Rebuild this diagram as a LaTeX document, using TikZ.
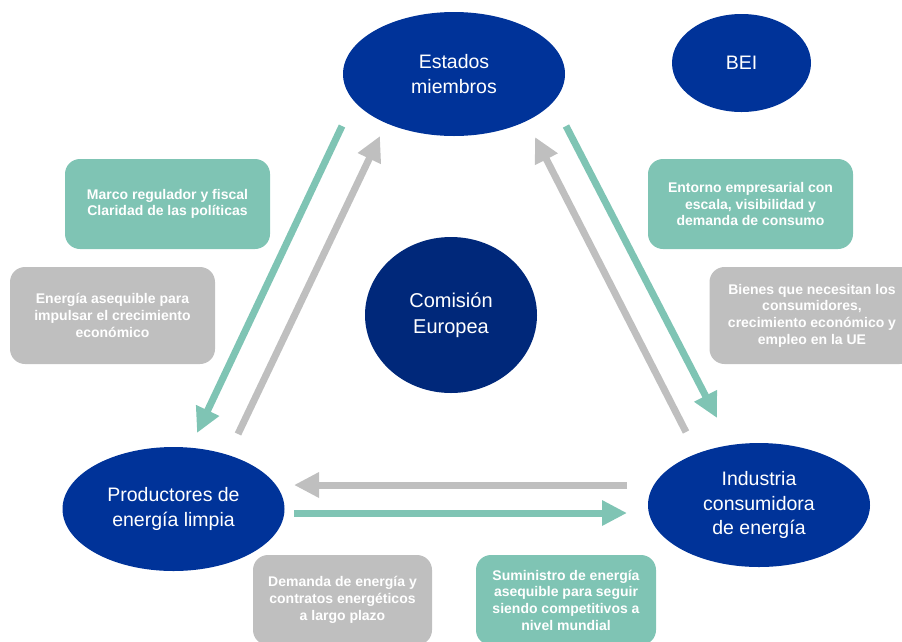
\documentclass[tikz,border=0pt]{standalone}
\usepackage{fontspec}
\setmainfont{Liberation Sans}
\usetikzlibrary{shapes.geometric,arrows.meta}
\definecolor{eublue}{HTML}{003399}
\definecolor{eudark}{HTML}{00287A}
\definecolor{tealbox}{HTML}{7FC4B4}
\definecolor{greybox}{HTML}{BFBFBF}
\begin{document}
\begin{tikzpicture}[x=1pt,y=-1pt,
  actor/.style={ellipse, fill=eublue, text=white, inner sep=0pt, align=center,
    font=\fontsize{19.5}{24.5}\selectfont},
  infobox/.style={rectangle, rounded corners=15pt, inner sep=0pt, text=white, align=center,
    minimum width=205pt, minimum height=90pt, font=\fontsize{14}{16.7}\selectfont\bfseries},
  greenbox/.style={infobox, fill=tealbox},
  greybx/.style={infobox, fill=greybox},
  flow/.style={line width=7pt, -{Triangle[length=25pt,width=24pt]}},
  greenflow/.style={flow, draw=tealbox},
  greyflow/.style={flow, draw=greybox},
]
\useasboundingbox (0,0) rectangle (902,641);
\clip (0,0) rectangle (902,641);

% actors
\node[actor, minimum width=222pt, minimum height=124pt] (estados) at (454,74) {Estados\\miembros};
\node[actor, minimum width=139pt, minimum height=98pt] (bei) at (741.5,63) {BEI};
\node[actor, fill=eudark, minimum width=172pt, minimum height=156pt,
  font=\fontsize{20}{25.5}\selectfont] (comision) at (451,315) {Comisión\\Europea};
\node[actor, minimum width=222pt, minimum height=124pt] (productores) at (173.5,509) {Productores de\\energía limpia};
\node[actor, minimum width=222pt, minimum height=124pt] (industria) at (759,505) {Industria\\consumidora\\de energía};

% info boxes
\node[greenbox] (marco) at (167.5,204) {Marco regulador y fiscal\\Claridad de las políticas};
\node[greybx, minimum height=97pt] (asequible) at (112.5,315.5) {Energía asequible para\\impulsar el crecimiento\\económico};
\node[greenbox] (entorno) at (750.5,204) {Entorno empresarial con\\escala, visibilidad y\\demanda de consumo};
\node[greybx, minimum height=97pt] (bienes) at (812,315.5) {Bienes que necesitan los\\consumidores,\\crecimiento económico y\\empleo en la UE};
\node[greybx, minimum width=179pt] (demanda) at (342.5,600) {Demanda de energía y\\contratos energéticos\\a largo plazo};
\node[greenbox, minimum width=180pt] (suministro) at (566,600) {Suministro de energía\\asequible para seguir\\siendo competitivos a\\nivel mundial};

% arrow end points
\coordinate (lgS) at (342,126);
\coordinate (lgE) at (197,433);
\coordinate (lyS) at (238,434);
\coordinate (lyE) at (380,136);
\coordinate (rgS) at (566,126);
\coordinate (rgE) at (717,418);
\coordinate (ryS) at (686,432);
\coordinate (ryE) at (535,137);
\coordinate (hyS) at (627,485);
\coordinate (hyE) at (294,485);
\coordinate (hgS) at (294,513);
\coordinate (hgE) at (627,513);

\draw[greenflow] (lgS) -- (lgE);
\draw[greyflow] (lyS) -- (lyE);
\draw[greenflow] (rgS) -- (rgE);
\draw[greyflow] (ryS) -- (ryE);
\draw[greyflow] (hyS) -- (hyE);
\draw[greenflow] (hgS) -- (hgE);
\end{tikzpicture}
\end{document}
